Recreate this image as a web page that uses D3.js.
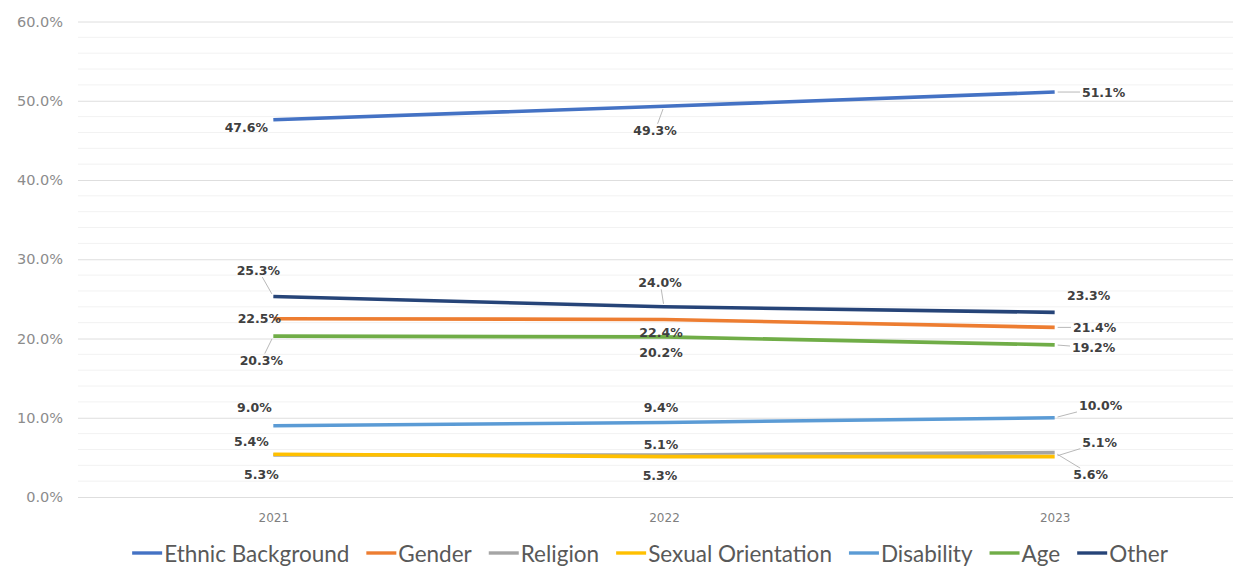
<!DOCTYPE html>
<html>
<head>
<meta charset="utf-8">
<script src="https://cdn.jsdelivr.net/npm/d3@7"></script>
<style>
  html, body { margin: 0; padding: 0; background: #ffffff; }
  svg { display: block; }
</style>
</head>
<body>
<svg id="chart" width="1233" height="570"></svg>
<script>
// ---- data ----
const years = ["2021", "2022", "2023"];
const seriesNames = ["Ethnic Background", "Gender", "Religion", "Sexual Orientation", "Disability", "Age", "Other"];
const ethnicBackground  = [47.6, 49.3, 51.1];
const gender            = [22.5, 22.4, 21.4];
const religion          = [5.3, 5.3, 5.6];
const sexualOrientation = [5.4, 5.1, 5.1];
const disability        = [9.0, 9.4, 10.0];
const age               = [20.3, 20.2, 19.2];
const other             = [25.3, 24.0, 23.3];
const yTickValues = [0, 10, 20, 30, 40, 50, 60];
const yTickLabels = ["0.0%", "10.0%", "20.0%", "30.0%", "40.0%", "50.0%", "60.0%"];

const seriesValues = [ethnicBackground, gender, religion, sexualOrientation, disability, age, other];

// ---- styling ----
const colors = ["#4472C4", "#ED7D31", "#A5A5A5", "#FFC000", "#5B9BD5", "#70AD47", "#264478"];

// label placement relative to each point (dx, dy of the label centre), per series and year
const labelPlacement = [
  [[-27, 8], [-9, 24], [49, 0]],
  [[-14, 0], [-3, 13], [40, 0]],
  [[-12, 20], [-4, 21], [36, 22]],
  [[-22, -13], [-3, -12], [45, -14]],
  [[-19, -18], [-3, -15], [46, -12]],
  [[-12, 24], [-3, 16], [39, 3]],
  [[-15, -26], [-4, -24], [34, -17]]
];
// labels that are joined to their point by a leader line [series, year]
const leaders = [[0, 2], [0, 1], [6, 0], [6, 1], [5, 0], [1, 2], [5, 2], [4, 2], [3, 2], [2, 2]];

const svg = d3.select("#chart");
const plot = { left: 78, right: 1250, top: 21.5, bottom: 497 };

const x = d3.scalePoint().domain(years).range([plot.left, plot.right]).padding(0.5);
const y = d3.scaleLinear().domain([0, 60]).range([plot.bottom, plot.top]);

// minor gridlines every 2%
svg.append("g").selectAll("line")
  .data(d3.range(0, 61, 2).filter(v => v % 10 !== 0))
  .join("line")
  .attr("x1", plot.left).attr("x2", 1233)
  .attr("y1", d => y(d)).attr("y2", d => y(d))
  .attr("stroke", "#f2f2f2").attr("stroke-width", 1);

// major gridlines + y axis labels
const yAxis = d3.axisLeft(y)
  .tickValues(yTickValues)
  .tickFormat((d, i) => yTickLabels[i])
  .tickSize(-(1233 - plot.left))
  .tickPadding(15);
const gy = svg.append("g").attr("transform", `translate(${plot.left},0)`).call(yAxis);
gy.select(".domain").remove();
gy.selectAll(".tick line").attr("stroke", "#dedede").attr("stroke-width", 1);
gy.selectAll(".tick text")
  .attr("fill", "#8c8c8c")
  .style("font-family", "'DejaVu Sans', sans-serif")
  .style("font-size", "14.5px");

// x axis labels
const xAxis = d3.axisBottom(x).tickSize(0).tickPadding(16);
const gx = svg.append("g").attr("transform", `translate(0,${plot.bottom})`).call(xAxis);
gx.select(".domain").remove();
gx.selectAll(".tick text")
  .attr("fill", "#7f7f7f")
  .style("font-family", "'DejaVu Sans', sans-serif")
  .style("font-size", "12px");

// lines
const line = d3.line()
  .x((d, i) => x(years[i]))
  .y(d => y(d));

svg.append("g").selectAll("path")
  .data(seriesValues)
  .join("path")
  .attr("d", d => line(d))
  .attr("fill", "none")
  .attr("stroke", (d, i) => colors[i])
  .attr("stroke-width", 3.6)
  .attr("stroke-linecap", "butt")
  .attr("stroke-linejoin", "round");

// data labels
const labelData = [];
seriesValues.forEach((vals, s) => {
  vals.forEach((v, k) => {
    labelData.push({ s, k, v, px: x(years[k]), py: y(v),
      dx: labelPlacement[s][k][0], dy: labelPlacement[s][k][1] });
  });
});

const leaderG = svg.append("g");
const labelG = svg.append("g");
const labels = labelG.selectAll("text")
  .data(labelData)
  .join("text")
  .attr("x", d => d.px + d.dx)
  .attr("y", d => d.py + d.dy)
  .attr("text-anchor", "middle")
  .attr("dominant-baseline", "central")
  .attr("fill", "#404040")
  .style("font-family", "'DejaVu Sans', sans-serif")
  .style("font-weight", "bold")
  .style("font-size", "12.5px")
  .text(d => d.v.toFixed(1) + "%");

// leader lines from point to the edge of the label box
labels.each(function (d) {
  if (!leaders.some(([s, k]) => s === d.s && k === d.k)) return;
  const b = this.getBBox();
  const cx = b.x + b.width / 2, cy = b.y + b.height / 2;
  const vx = d.px - cx, vy = d.py - cy;
  const hw = b.width / 2 + 2, hh = b.height / 2 - 1;
  const t = Math.min(vx !== 0 ? hw / Math.abs(vx) : Infinity, vy !== 0 ? hh / Math.abs(vy) : Infinity);
  const ex = cx + vx * t, ey = cy + vy * t;
  const len = Math.hypot(d.px - ex, d.py - ey);
  if (len < 4) return;
  const sx = d.px - (d.px - ex) * (3 / len), sy = d.py - (d.py - ey) * (3 / len);
  leaderG.append("line")
    .attr("x1", sx).attr("y1", sy).attr("x2", ex).attr("y2", ey)
    .attr("stroke", "#b0b0b0").attr("stroke-width", 0.9);
});

// legend
const legend = svg.append("g");
const sampleLen = 30, sampleGap = 2, itemGap = 17, legendY = 553;
let cursor = 0;
const items = [];
seriesNames.forEach((name, i) => {
  const g = legend.append("g");
  g.append("line")
    .attr("x1", 0).attr("x2", sampleLen)
    .attr("y1", 0).attr("y2", 0)
    .attr("stroke", colors[i]).attr("stroke-width", 3.4);
  const t = g.append("text")
    .attr("x", sampleLen + sampleGap)
    .attr("y", 0)
    .attr("dominant-baseline", "central")
    .attr("fill", "#595959")
    .style("font-family", "Lato, sans-serif")
    .style("font-size", "22.5px")
    .text(name);
  const w = sampleLen + sampleGap + t.node().getComputedTextLength();
  items.push({ g, start: cursor });
  cursor += w + itemGap;
});
const total = cursor - itemGap;
const legendLeft = 650 - total / 2;
items.forEach(it => it.g.attr("transform", `translate(${legendLeft + it.start},${legendY})`));
</script>
</body>
</html>
